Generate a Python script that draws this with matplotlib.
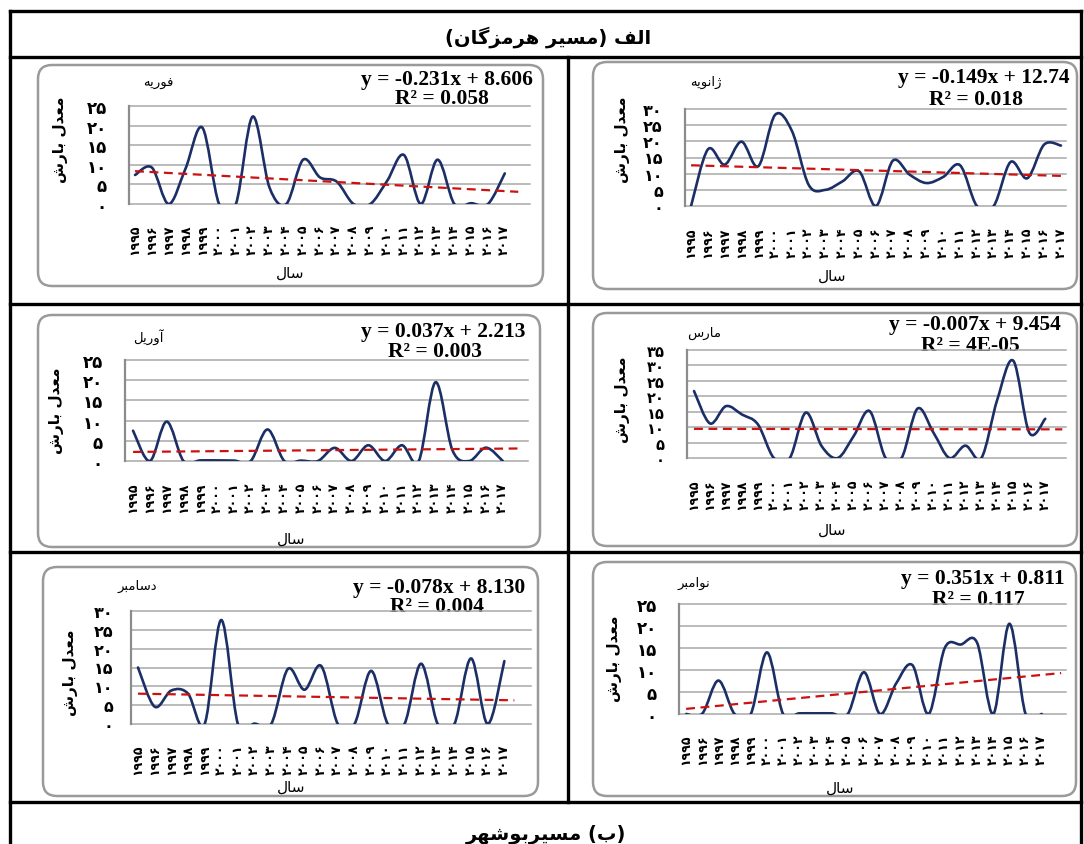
import numpy as np
import matplotlib
matplotlib.use('Agg')
import matplotlib.pyplot as plt
from matplotlib.path import Path
from matplotlib.patches import PathPatch, FancyBboxPatch

W, H = 1084, 845

# ---- data ----
years = list(range(1995, 2018))
months = ['ژانویه', 'فوریه', 'مارس', 'آوریل', 'نوامبر', 'دسامبر']

jan = [0, 17.5, 12.8, 19.9, 12.3, 28.2, 23.2, 6.5, 5.0, 7.6, 10.7, 0, 14.0, 9.7, 7.1, 9.0, 12.6, 0, 0, 13.6, 8.6, 19.0, 18.7]
feb = [7.4, 9.3, 0, 9.0, 19.5, 0, 0, 22.3, 4.2, 0, 11.3, 6.8, 5.7, 0, 0, 5.9, 12.5, 0, 11.3, 0, 0.2, 0, 7.8]
mar = [21.7, 11.2, 16.8, 14.1, 10.9, 0, 0, 14.7, 3.8, 0, 7.1, 15.2, 0, 0, 16.0, 8.2, 0, 4.0, 0, 19.0, 31.5, 8.2, 12.7]
apr = [7.5, 0, 9.75, 0, 0.15, 0.15, 0.1, 0, 7.8, 0, 0.1, 0, 3.25, 0, 3.9, 0, 3.9, 0, 19.5, 2.7, 0, 3.3, 0]
nov = [0, 0.1, 7.6, 0, 0, 14.0, 0, 0.15, 0.15, 0.15, 0, 9.5, 0, 7.0, 11.1, 0, 15.0, 15.8, 16.2, 0, 20.5, 0, 0]
dec = [15.0, 4.6, 8.9, 8.1, 0, 27.6, 0, 0.1, 0, 14.6, 9.1, 15.4, 0, 0, 14.1, 0, 0, 16.0, 0, 0, 17.4, 0, 16.7]
series = [jan, feb, mar, apr, nov, dec]

slopes = [-0.149, -0.231, -0.007, 0.037, 0.351, -0.078]
intercepts = [12.74, 8.606, 9.454, 2.213, 0.811, 8.130]
eq_labels = ['y = -0.149x + 12.74', 'y = -0.231x + 8.606', 'y = -0.007x + 9.454',
             'y = 0.037x + 2.213', 'y = 0.351x + 0.811', 'y = -0.078x + 8.130']
r2_labels = ['R² = 0.018', 'R² = 0.058', 'R² = 4E-05', 'R² = 0.003', 'R² = 0.117', 'R² = 0.004']
y_max = [30, 25, 35, 25, 25, 30]

header_top = 'الف (مسیر هرمزگان)'
header_bottom = '(ب) مسیربوشهر'
y_title = 'معدل بارش'
x_title = 'سال'

# ---- layout (pixels in the 1084x845 picture) ----
# plot box: left, top, right, bottom ; frame: left, top, right, bottom
plot_box = [(685, 110, 1066, 207), (129, 107, 530, 205), (687, 351, 1066, 459),
            (125, 361, 528, 462), (679, 605, 1066, 715), (131, 612, 531, 725)]
frame_box = [(593, 63, 1077, 290), (38, 66, 543, 287), (593, 314, 1077, 547),
             (38, 316, 540, 548), (593, 563, 1076, 797), (43, 568, 538, 797)]
x_range = [(0.64, 23.3), (0.64, 24.5), (0.56, 24.3), (0.52, 24.5), (0.56, 24.5), (0.58, 24.6)]
trend_end = [23.0, 23.8, 24.07, 23.9, 24.2, 23.6]
title_pos = [(706, 82), (158, 83), (704, 333), (148, 337), (694, 583), (137, 586)]
eq_pos = [(1070, 78), (533, 80), (1061, 325), (525, 332), (1065, 579), (525, 588)]
r2_pos = [(976, 100), (442, 99), (970, 346), (435, 352), (978, 600), (437, 607)]
ylab_pos = [(622, 140), (60, 140), (622, 400), (57, 411), (615, 659), (70, 673)]
ytick_pad = [16, 16, 16, 16, 16, 13]
ytick_size = [11.5, 12, 10.5, 12, 12, 11.5]
xlab_pos = [(832, 276), (290, 273), (832, 530), (291, 539), (840, 788), (291, 787)]
xtick_pad = [15, 14, 15, 15, 14, 14]

LINE = '#1b2f66'
TREND = '#cc1111'
GRID = '#a8a8a8'

# minimal Persian shaping (matplotlib has no bidi / joining)
FORMS = {
    'ا': ('\uFE8D', '\uFE8E', None, None), 'آ': ('\uFE81', '\uFE82', None, None),
    'ب': ('\uFE8F', '\uFE90', '\uFE91', '\uFE92'), 'د': ('\uFEA9', '\uFEAA', None, None),
    'ر': ('\uFEAD', '\uFEAE', None, None), 'ز': ('\uFEAF', '\uFEB0', None, None),
    'ژ': ('\uFB8A', '\uFB8B', None, None), 'س': ('\uFEB1', '\uFEB2', '\uFEB3', '\uFEB4'),
    'ش': ('\uFEB5', '\uFEB6', '\uFEB7', '\uFEB8'), 'ع': ('\uFEC9', '\uFECA', '\uFECB', '\uFECC'),
    'ف': ('\uFED1', '\uFED2', '\uFED3', '\uFED4'), 'گ': ('\uFB92', '\uFB93', '\uFB94', '\uFB95'),
    'ل': ('\uFEDD', '\uFEDE', '\uFEDF', '\uFEE0'), 'م': ('\uFEE1', '\uFEE2', '\uFEE3', '\uFEE4'),
    'ن': ('\uFEE5', '\uFEE6', '\uFEE7', '\uFEE8'), 'ه': ('\uFEE9', '\uFEEA', '\uFEEB', '\uFEEC'),
    'و': ('\uFEED', '\uFEEE', None, None), 'ی': ('\uFBFC', '\uFBFD', '\uFBFE', '\uFBFF'),
}


def fa(text):
    out = []
    for i, ch in enumerate(text):
        if ch not in FORMS:
            out.append(ch)
            continue
        prev = text[i - 1] if i > 0 else ''
        nxt = text[i + 1] if i + 1 < len(text) else ''
        jp = prev in FORMS and FORMS[prev][2] is not None
        jn = nxt in FORMS and FORMS[ch][2] is not None
        iso, fin, ini, med = FORMS[ch]
        out.append(med if (jp and jn) else fin if jp else ini if jn else iso)
    return ''.join(reversed(out)).translate(str.maketrans('()', ')('))


def fa_num(n):
    return str(n).translate(str.maketrans('0123456789', '۰۱۲۳۴۵۶۷۸۹'))


def smooth_path(x, y):
    # Excel-like smoothed line: cubic Bezier through every point
    p = np.column_stack([x, y]).astype(float)
    ext = np.vstack([p[0], p, p[-1]])
    verts = [p[0]]
    codes = [Path.MOVETO]
    for i in range(len(p) - 1):
        c1 = ext[i + 1] + (ext[i + 2] - ext[i]) / 6
        c2 = ext[i + 2] - (ext[i + 3] - ext[i + 1]) / 6
        verts += [c1, c2, p[i + 1]]
        codes += [Path.CURVE4] * 3
    return Path(verts, codes)


fig = plt.figure(figsize=(W / 100, H / 100), dpi=100)

bg = fig.add_axes([0, 0, 1, 1])
bg.set_xlim(0, W)
bg.set_ylim(H, 0)
bg.axis('off')

# table borders
lw_tab = 2.4
bg.plot([10, 10], [12, H + 5], color='black', lw=lw_tab)
bg.plot([1081, 1081], [12, H + 5], color='black', lw=lw_tab)
for yy in [12, 58, 305, 553, 803]:
    bg.plot([10, 1081], [yy, yy], color='black', lw=lw_tab)
bg.plot([568, 568], [58, 803], color='black', lw=lw_tab)

bg.text(548, 37, fa(header_top), ha='center', va='center', fontsize=14,
        fontweight='bold', family='DejaVu Sans')
bg.text(546, 834, fa(header_bottom), ha='center', va='center', fontsize=14,
        fontweight='bold', family='DejaVu Sans')

for k in range(6):
    fl, ft, fr, fb = frame_box[k]
    bg.add_patch(FancyBboxPatch((fl, ft), fr - fl, fb - ft,
                                boxstyle='round,pad=0,rounding_size=14',
                                fc='white', ec='#9a9a9a', lw=1.8))
    bg.text(*title_pos[k], fa(months[k]), ha='center', va='center', fontsize=9.5,
            family='DejaVu Sans')
    bg.text(*eq_pos[k], eq_labels[k], ha='right', va='center', fontsize=15.5,
            fontweight='bold', family='Liberation Serif')
    bg.text(*r2_pos[k], r2_labels[k], ha='center', va='center', fontsize=15.5,
            fontweight='bold', family='Liberation Serif')
    bg.text(*ylab_pos[k], fa(y_title), ha='center', va='center', rotation=90,
            fontsize=11, fontweight='bold', family='DejaVu Sans')
    bg.text(*xlab_pos[k], fa(x_title), ha='center', va='center', fontsize=11,
            family='DejaVu Sans')

    l, t, r, b = plot_box[k]
    ax = fig.add_axes([l / W, 1 - b / H, (r - l) / W, (b - t) / H])
    ax.set_facecolor('none')
    x = np.arange(1, len(years) + 1)
    ax.set_xlim(*x_range[k])
    ax.set_ylim(0, y_max[k])
    yt = np.arange(0, y_max[k] + 1, 5)
    ax.set_yticks(yt)
    ax.set_yticklabels([fa_num(v) for v in yt], fontsize=ytick_size[k],
                       fontweight='bold', family='DejaVu Sans')
    ax.set_xticks(x)
    ax.set_xticklabels([fa_num(yv) for yv in years], rotation=90, fontsize=9,
                       fontweight='bold', family='DejaVu Sans')
    ax.tick_params(axis='both', length=0)
    ax.tick_params(axis='x', pad=xtick_pad[k])
    ax.tick_params(axis='y', pad=ytick_pad[k])
    for yv in yt:
        ax.axhline(yv, color=GRID, lw=1.1, zorder=1, clip_on=False)
    for s in ['top', 'right', 'bottom']:
        ax.spines[s].set_visible(False)
    ax.spines['left'].set_color('#8c8c8c')
    ax.spines['left'].set_linewidth(1.6)

    ax.add_patch(PathPatch(smooth_path(x, series[k]), fill=False, ec=LINE,
                           lw=1.9, zorder=3, capstyle='round'))
    tx = np.array([1, trend_end[k]])
    ax.plot(tx, slopes[k] * tx + intercepts[k], color=TREND, lw=1.6,
            dashes=(4, 2.5), zorder=4)

fig.savefig('out.png', dpi=100)
